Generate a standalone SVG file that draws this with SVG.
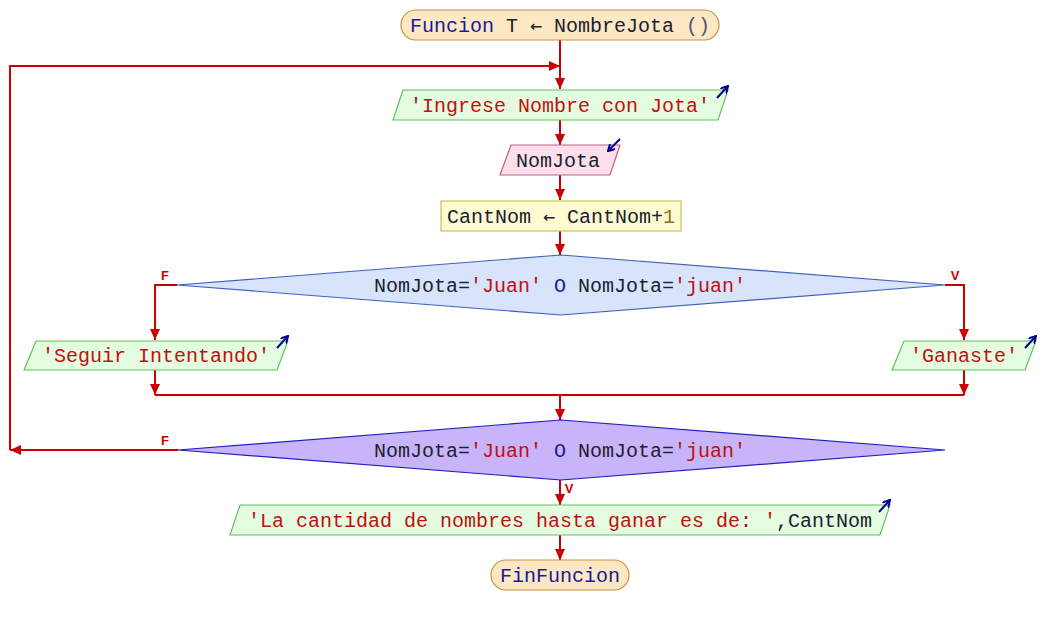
<svg xmlns="http://www.w3.org/2000/svg" width="1060" height="625" viewBox="0 0 1060 625">
<defs>
<marker id="ah" markerUnits="userSpaceOnUse" markerWidth="12" markerHeight="10" refX="11" refY="5" orient="auto">
<path d="M0,0 L11,5 L0,10 z" fill="#cc0000"/>
</marker>
<marker id="ib" markerUnits="userSpaceOnUse" markerWidth="8" markerHeight="8" refX="7" refY="4" orient="auto">
<path d="M0,0 L7,4 L0,8" fill="none" stroke="#000090" stroke-width="2"/>
</marker>
<style>
.t{font-family:"Liberation Mono","DejaVu Sans Mono",monospace;font-size:20px;text-anchor:middle;fill:#202030}
.ar{font-family:"DejaVu Sans Mono",monospace}
.kw{fill:#1a1a9a}
.st{fill:#c01010}
.num{fill:#907020}
.par{fill:#505078}
.lbl{font-family:"Liberation Sans","DejaVu Sans",sans-serif;font-size:13px;font-weight:bold;fill:#cc0000;text-anchor:middle}
.c{fill:none;stroke:#cc0000;stroke-width:2}
.io{fill:#e4fce0;stroke:#60c060;stroke-width:1.2}
.ico{fill:none;stroke:#000090;stroke-width:2;marker-end:url(#ib)}
</style>
</defs>
<rect width="1060" height="625" fill="#ffffff"/>
<g id="connectors">
<path class="c" d="M560,40 V89" marker-end="url(#ah)"/>
<path class="c" d="M10,450 V66 H560" marker-end="url(#ah)"/>
<path class="c" d="M560,120 V145" marker-end="url(#ah)"/>
<path class="c" d="M560,175 V200" marker-end="url(#ah)"/>
<path class="c" d="M560,231 V255" marker-end="url(#ah)"/>
<path class="c" d="M177,285 H155 V340" marker-end="url(#ah)"/>
<path class="c" d="M945,285 H964 V340" marker-end="url(#ah)"/>
<path class="c" d="M155,370 V395" marker-end="url(#ah)"/>
<path class="c" d="M964,370 V395" marker-end="url(#ah)"/>
<path class="c" d="M155,395 H964"/>
<path class="c" d="M560,395 V420" marker-end="url(#ah)"/>
<path class="c" d="M178,450 H10" marker-end="url(#ah)"/>
<path class="c" d="M560,480 V505" marker-end="url(#ah)"/>
<path class="c" d="M560,535 V560" marker-end="url(#ah)"/>
<text class="lbl" x="165" y="280">F</text>
<text class="lbl" x="955" y="280">V</text>
<text class="lbl" x="165" y="445">F</text>
<text class="lbl" x="569" y="493">V</text>
</g>
<g id="start">
<rect x="401" y="10" width="318" height="30" rx="15" ry="15" fill="#fde8c4" stroke="#c89040" stroke-width="1.2"/>
<text class="t" x="560" y="32"><tspan class="kw">Funcion</tspan> T <tspan class="ar">←</tspan> NombreJota <tspan class="par">()</tspan></text>
</g>
<g id="out1">
<polygon class="io" points="403,90 728,90 718,120 393,120"/>
<text class="t" x="560" y="112"><tspan class="st">'Ingrese Nombre con Jota'</tspan></text>
<path class="ico" d="M717,98 L728,86"/>
</g>
<g id="in1">
<polygon points="511,145 620,145 610,175 500,175" fill="#fde0ec" stroke="#c06080" stroke-width="1.2"/>
<text class="t" x="558" y="167">NomJota</text>
<path class="ico" d="M620,139 L608,151"/>
</g>
<g id="assign">
<rect x="441" y="201" width="240" height="30" fill="#fcfcd0" stroke="#c8c060" stroke-width="1.2"/>
<text class="t" x="561" y="223">CantNom <tspan class="ar">←</tspan> CantNom+<tspan class="num">1</tspan></text>
</g>
<g id="if1">
<polygon points="561,255 945,285 561,315 177,285" fill="#d8e4fc" stroke="#4060c0" stroke-width="1.2"/>
<text class="t" x="560" y="292">NomJota=<tspan class="st">'Juan'</tspan> <tspan class="kw">O</tspan> NomJota=<tspan class="st">'juan'</tspan></text>
</g>
<g id="outF">
<polygon class="io" points="36,341 288,341 277,370 24,370"/>
<text class="t" x="156" y="362"><tspan class="st">'Seguir Intentando'</tspan></text>
<path class="ico" d="M277,348 L288,336"/>
</g>
<g id="outV">
<polygon class="io" points="904,341 1036,341 1025,370 892,370"/>
<text class="t" x="964" y="362"><tspan class="st">'Ganaste'</tspan></text>
<path class="ico" d="M1025,348 L1036,336"/>
</g>
<g id="while">
<polygon points="561,420 945,450 561,480 178,450" fill="#c8b4f8" stroke="#2020c0" stroke-width="1.2"/>
<text class="t" x="560" y="457">NomJota=<tspan class="st">'Juan'</tspan> <tspan class="kw">O</tspan> NomJota=<tspan class="st">'juan'</tspan></text>
</g>
<g id="out2">
<polygon class="io" points="240,505 890,505 880,535 230,535"/>
<text class="t" x="560" y="527"><tspan class="st">'La cantidad de nombres hasta ganar es de: '</tspan>,CantNom</text>
<path class="ico" d="M879,512 L890,500"/>
</g>
<g id="end">
<rect x="491" y="560" width="138" height="30" rx="15" ry="15" fill="#fde8c4" stroke="#c89040" stroke-width="1.2"/>
<text class="t kw" x="560" y="582">FinFuncion</text>
</g>
</svg>
